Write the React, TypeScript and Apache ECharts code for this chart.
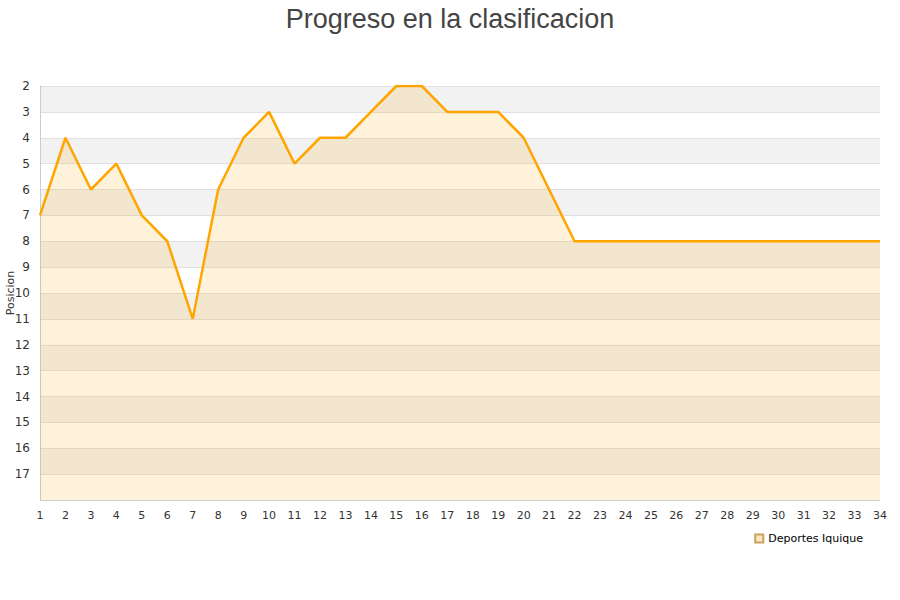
import React, { useEffect, useRef } from "react";
import * as echarts from "echarts";

const jornadas = Array.from({ length: 34 }, (_, i) => String(i + 1));
const posiciones = [7, 4, 6, 5, 7, 8, 11, 6, 4, 3, 5, 4, 4, 3, 2, 2, 3, 3, 3, 4, 6, 8, 8, 8, 8, 8, 8, 8, 8, 8, 8, 8, 8, 8];
const teamName = "Deportes Iquique";
const titleText = "Progreso en la clasificacion";

export default function App() {
  const ref = useRef<HTMLDivElement>(null);
  useEffect(() => {
    const chart = echarts.init(ref.current!, null, { renderer: "svg" });
    const font = "DejaVu Sans, Verdana, sans-serif";
    chart.setOption({
      animation: false,
      title: {
        text: titleText,
        left: "center",
        top: 0,
        textStyle: { fontSize: 27, fontWeight: "normal", color: "#444", fontFamily: "Liberation Sans, Arial, sans-serif" },
      },
      legend: {
        data: [{ name: teamName, icon: "rect" }],
        right: 32,
        top: 528,
        itemWidth: 8,
        itemHeight: 8,
        itemGap: 8,
        textStyle: { fontSize: 11, color: "#000", fontFamily: font },
      },
      grid: { left: 40, right: 20, top: 86, bottom: 100, outerBoundsMode: "none", containLabel: false },
      xAxis: {
        type: "category",
        data: jornadas,
        boundaryGap: false,
        axisLine: { lineStyle: { color: "#ccc" } },
        axisTick: { show: false },
        axisLabel: { color: "#333", fontSize: 11, fontFamily: font, margin: 10 },
        splitLine: { show: false },
      },
      yAxis: {
        type: "value",
        inverse: true,
        min: 2,
        max: 18,
        interval: 1,
        name: "Posicion",
        nameLocation: "middle",
        nameGap: 24,
        nameMoveOverlap: false,
        nameTextStyle: { fontSize: 11, color: "#333", fontFamily: font },
        axisLine: { show: true, lineStyle: { color: "#ccc" } },
        axisTick: { show: false },
        axisLabel: {
          color: "#333",
          fontSize: 12,
          fontFamily: font,
          margin: 10,
          showMaxLabel: false,
        },
        splitLine: { show: true, lineStyle: { color: "#e0e0e0" } },
        splitArea: { show: true, areaStyle: { color: ["#f2f2f2", "#ffffff"] } },
      },
      series: [
        {
          name: teamName,
          type: "line",
          data: posiciones,
          symbol: "none",
          lineStyle: { color: "#ffa500", width: 2.5 },
          itemStyle: { color: "#ffe8bf", borderColor: "#c8a060", borderWidth: 1 },
          areaStyle: { color: "rgba(255,165,0,0.2)", origin: "end" },
        },
      ],
    });
    return () => chart.dispose();
  }, []);
  return <div ref={ref} style={{ width: 900, height: 600, position: "absolute", left: 0, top: 0 }} />;
}
